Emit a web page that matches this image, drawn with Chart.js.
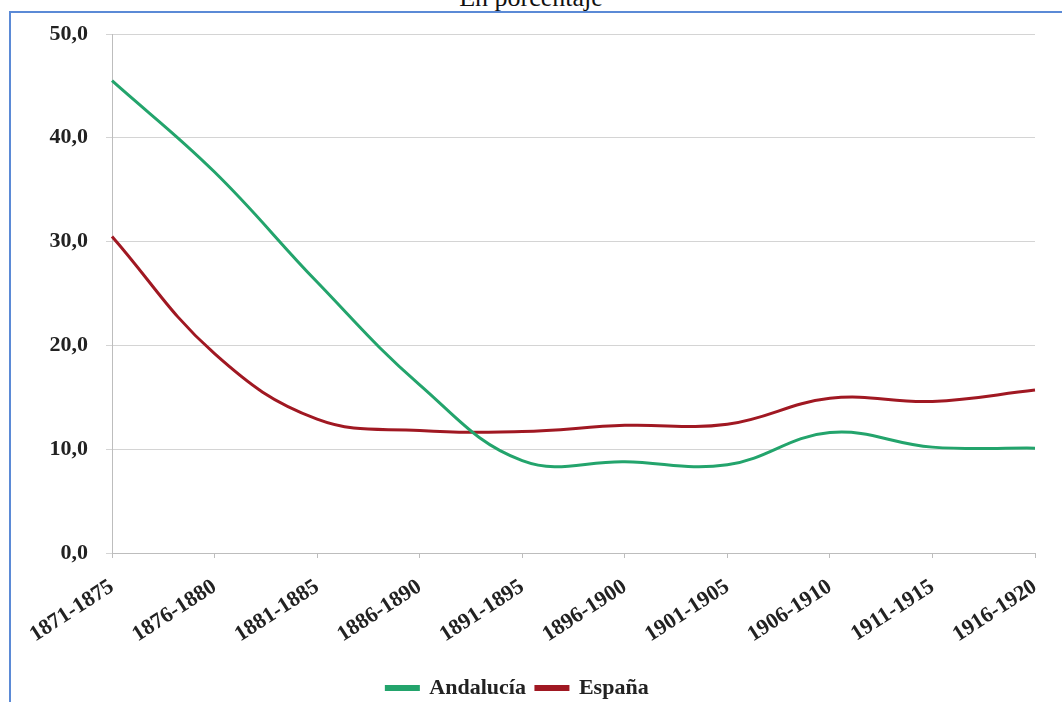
<!DOCTYPE html>
<html>
<head>
<meta charset="utf-8">
<script src="https://cdn.jsdelivr.net/npm/chart.js@4.4.1/dist/chart.umd.min.js"></script>
<style>
  html, body { margin: 0; padding: 0; background: #fff; overflow: hidden; }
  #wrap { position: relative; width: 1062px; height: 702px; }
  #frame {
    position: absolute; left: 9px; top: 11px; width: 1100px; height: 800px;
    border: 2px solid #5b8ad6; box-sizing: border-box;
  }
  #title {
    position: absolute; left: 0; width: 1062px; top: -15px; text-align: center;
    font-family: "Liberation Serif", "Times New Roman", serif; font-size: 26px; line-height: 26px; color: #111;
  }
  #chart { position: absolute; left: 0; top: 0; }
</style>
</head>
<body>
<div id="wrap">
  <div id="title">En porcentaje</div>
  <div id="frame"></div>
  <canvas id="chart" width="1062" height="702"></canvas>
</div>
<script>
const periods = ['1871-1875', '1876-1880', '1881-1885', '1886-1890', '1891-1895',
  '1896-1900', '1901-1905', '1906-1910', '1911-1915', '1916-1920'];
const andalucia = [45.5, 36.7, 26.1, 16.2, 8.9, 8.8, 8.5, 11.6, 10.2, 10.1];
const espana = [30.5, 19.2, 12.9, 11.8, 11.7, 12.3, 12.4, 14.9, 14.6, 15.7];
const yTicks = [0, 10, 20, 30, 40, 50];

const serif = '"Liberation Serif", "Times New Roman", serif';
const green = '#23a46c';
const red = '#a01822';

Chart.defaults.font.family = serif;
Chart.defaults.font.weight = 'bold';

const ctx = document.getElementById('chart').getContext('2d');
new Chart(ctx, {
  type: 'line',
  data: {
    labels: periods,
    datasets: [
      {
        label: 'Andalucía',
        data: andalucia,
        borderColor: green,
        backgroundColor: green,
        borderWidth: 3,
        pointRadius: 0,
        tension: 0.4
      },
      {
        label: 'España',
        data: espana,
        borderColor: red,
        backgroundColor: red,
        borderWidth: 3,
        pointRadius: 0,
        tension: 0.4
      }
    ]
  },
  options: {
    responsive: false,
    animation: false,
    layout: { padding: { top: 34, right: 27, left: 0, bottom: -7 } },
    plugins: {
      title: { display: false },
      tooltip: { enabled: false },
      legend: {
        position: 'bottom',
        labels: {
          boxWidth: 32,
          boxHeight: 3,
          padding: 10,
          color: '#222',
          font: { family: serif, size: 22, weight: 'bold' }
        }
      }
    },
    scales: {
      x: {
        offset: false,
        grid: {
          drawOnChartArea: false,
          drawTicks: true,
          tickLength: 5,
          color: '#bdbdbd'
        },
        border: { color: '#bdbdbd', width: 1 },
        ticks: {
          autoSkip: false,
          minRotation: 33,
          maxRotation: 33,
          padding: 16,
          color: '#222',
          font: { family: serif, size: 22, weight: 'bold' }
        },
        afterFit: (scale) => {
          scale.height = 114;
          scale.paddingRight = 0;
          scale.paddingLeft = 0;
        }
      },
      y: {
        min: 0,
        max: 50,
        afterBuildTicks: (scale) => { scale.ticks = yTicks.map(v => ({ value: v })); },
        grid: {
          color: '#d4d4d4',
          lineWidth: 1,
          tickLength: 6
        },
        border: { color: '#bdbdbd', width: 1 },
        ticks: {
          padding: 18,
          color: '#222',
          font: { family: serif, size: 22, weight: 'bold' },
          callback: (v) => v.toFixed(1).replace('.', ',')
        },
        afterFit: (scale) => { scale.width = 112; }
      }
    }
  }
});
</script>
</body>
</html>
